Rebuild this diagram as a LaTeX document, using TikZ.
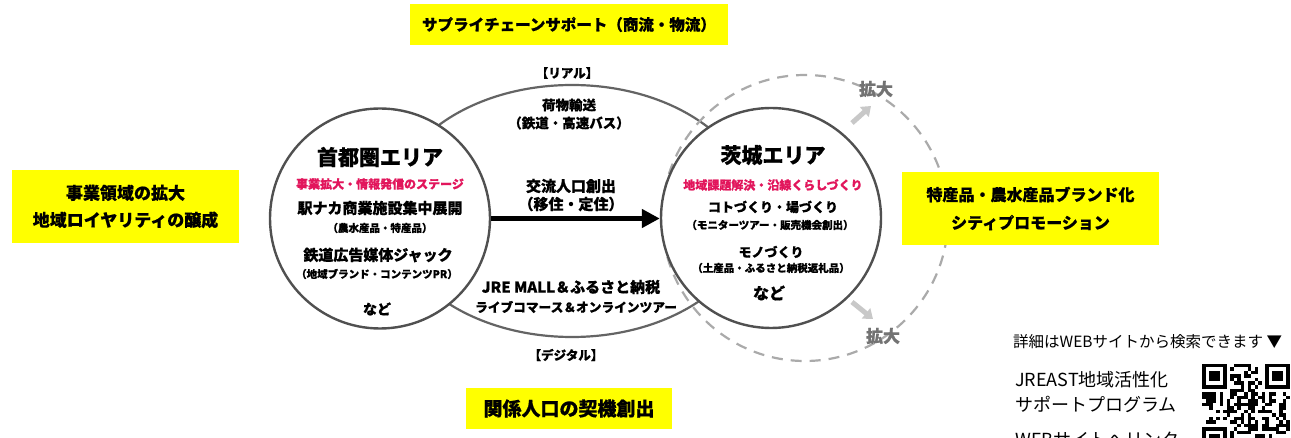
\documentclass[tikz,border=0pt]{standalone}
\usepackage{fontspec}
\setmainfont{Noto Sans CJK JP}[BoldFeatures={FakeBold=0.6}]
\usetikzlibrary{arrows.meta}
\definecolor{hl}{RGB}{255,255,0}
\definecolor{accent}{RGB}{226,22,92}
\definecolor{ring}{RGB}{80,80,80}
\definecolor{lensc}{RGB}{100,100,100}
\definecolor{dashc}{RGB}{170,170,170}
\definecolor{growc}{RGB}{200,200,200}
\definecolor{growtxt}{RGB}{115,115,115}
\newcommand\fsz[2]{\fontsize{#1}{#2}\selectfont}
\begin{document}
\begin{tikzpicture}[x=1pt,y=-1pt,
  txt/.style={inner sep=0pt, align=center, font=\bfseries},
  hlbox/.style={fill=hl, inner sep=0pt, align=center, font=\bfseries},
  area/.style={circle, draw=ring, line width=2.4pt, fill=white, inner sep=0pt, minimum size=220pt},
  growarrow/.style={draw=growc, line width=5pt, -{Triangle[length=9pt,width=13pt]}},
  qrm/.style={fill=black}]
\useasboundingbox (0,0) rectangle (1291,438);
\fill[white] (0,0) rectangle (1291,438);

% lens and dashed ring
\draw[lensc, line width=2.2pt] (572,211) ellipse [x radius=182, y radius=126];
\draw[dashc, line width=2.2pt, dash pattern=on 11pt off 8pt] (805,218) circle [radius=143];

% growth arrows
\coordinate (g1s) at (852,123); \coordinate (g1e) at (871,106);
\coordinate (g2s) at (852,302); \coordinate (g2e) at (873,319);
\draw[growarrow] (g1s) -- (g1e);
\draw[growarrow] (g2s) -- (g2e);
\node[txt, text=growtxt, font=\bfseries\fsz{17}{20}] (grow1) at (876,89) {拡大};
\node[txt, text=growtxt, font=\bfseries\fsz{17}{20}] (grow2) at (883,336) {拡大};

% circles
\node[area] (tokyo) at (380,218.5) {};
\node[area] (ibaraki) at (771,218) {};

% arrow
\draw[line width=5pt, -{Triangle[length=18pt,width=18pt]}] (tokyo.east) -- (tokyo.east -| ibaraki.west);

% tokyo texts
\node[txt, font=\bfseries\fsz{21}{24}] (t1) at (380,157) {首都圏エリア};
\node[txt, text=accent, font=\bfseries\fsz{12}{14}] (t2) at (380,184) {事業拡大・情報発信のステージ};
\node[txt, font=\bfseries\fsz{15}{18}] (t3) at (380,208) {駅ナカ商業施設集中展開};
\node[txt, font=\bfseries\fsz{10.5}{12}] (t4) at (380,228) {（農水産品・特産品）};
\node[txt, font=\bfseries\fsz{15}{18}] (t5) at (378,255) {鉄道広告媒体ジャック};
\node[txt, font=\bfseries\fsz{10.5}{12}] (t6) at (377,274) {（地域ブランド・コンテンツPR）};
\node[txt, font=\bfseries\fsz{14}{16}] (t7) at (377,309) {など};

% ibaraki texts
\node[txt, font=\bfseries\fsz{21}{24}] (i1) at (773,155) {茨城エリア};
\node[txt, text=accent, font=\bfseries\fsz{12}{14}] (i2) at (773,185) {地域課題解決・沿線くらしづくり};
\node[txt, font=\bfseries\fsz{13}{15}] (i3) at (773,207) {コトづくり・場づくり};
\node[txt, font=\bfseries\fsz{10.5}{12}] (i4) at (770,225) {（モニターツアー・販売機会創出）};
\node[txt, font=\bfseries\fsz{13}{15}] (i5) at (771,252) {モノづくり};
\node[txt, font=\bfseries\fsz{10.5}{12}] (i6) at (771,268) {（土産品・ふるさと納税返礼品）};
\node[txt, font=\bfseries\fsz{16}{18}] (i7) at (769,293) {など};

% middle texts
\node[txt, font=\bfseries\fsz{12.5}{14}] (m1) at (567,73) {【リアル】};
\node[txt, font=\bfseries\fsz{13.5}{16}] (m2) at (569,105) {荷物輸送};
\node[txt, font=\bfseries\fsz{13.5}{16}] (m3) at (569,123) {（鉄道・高速バス）};
\node[txt, font=\bfseries\fsz{15}{18}] (m4) at (571,186) {交流人口創出};
\node[txt, font=\bfseries\fsz{15}{18}] (m5) at (571,204) {（移住・定住）};
\node[txt, font=\bfseries\fsz{15}{18}] (m6) at (571,287) {JRE MALL＆ふるさと納税};
\node[txt, font=\bfseries\fsz{12.7}{15}] (m7) at (576,307) {ライブコマース＆オンラインツアー};
\node[txt, font=\bfseries\fsz{12.5}{14}] (m8) at (566,355) {【デジタル】};

% yellow boxes
\node[hlbox, minimum width=318pt, minimum height=41pt, font=\bfseries\fsz{15.5}{18}] (b1) at (569,24.5) {サプライチェーンサポート（商流・物流）};
\node[hlbox, minimum width=227pt, minimum height=73pt, font=\bfseries\fsz{17}{27}] (b2) at (125.5,206.5) {事業領域の拡大\\地域ロイヤリティの醸成};
\node[hlbox, minimum width=257pt, minimum height=73pt, font=\bfseries\fsz{16}{28}] (b3) at (1030.5,208.5) {特産品・農水産品ブランド化\\シティプロモーション};
\node[hlbox, minimum width=206pt, minimum height=41pt, font=\bfseries\fsz{19}{22}] (b4) at (569,408.5) {関係人口の契機創出};

% web info
\node[inner sep=0pt, anchor=west, font=\fsz{15.5}{18}] (w1) at (1013,342) {詳細はWEBサイトから検索できます ▼};
\node[inner sep=0pt, anchor=west, font=\fsz{18}{20}] (w2) at (1015,380) {JREAST地域活性化};
\node[inner sep=0pt, anchor=west, font=\fsz{18}{20}] (w3) at (1015,404) {サポートプログラム};
\node[inner sep=0pt, anchor=west, font=\fsz{18}{20}] (w4) at (1015,440) {WEBサイトへリンク};

% QR code
\begin{scope}
\clip (1195,355) rectangle (1291,438);
\pgfmathsetseed{7}
\foreach \i in {0,...,24}{
  \foreach \j in {0,...,24}{
    \pgfmathsetmacro\r{rnd}
    \ifdim\r pt>0.52pt
      \fill (1202+\i*3.5,364+\j*3.5) rectangle ++(3.5,3.5);
    \fi
  }
}
\foreach \cx/\cy in {1202/364, 1265/364, 1202/427}{
  \fill[white] (\cx-3.5,\cy-3.5) rectangle ++(31.5,31.5);
  \fill (\cx,\cy) rectangle ++(24.5,24.5);
  \fill[white] (\cx+3.5,\cy+3.5) rectangle ++(17.5,17.5);
  \fill (\cx+7,\cy+7) rectangle ++(10.5,10.5);
}
\end{scope}
\end{tikzpicture}
\end{document}
